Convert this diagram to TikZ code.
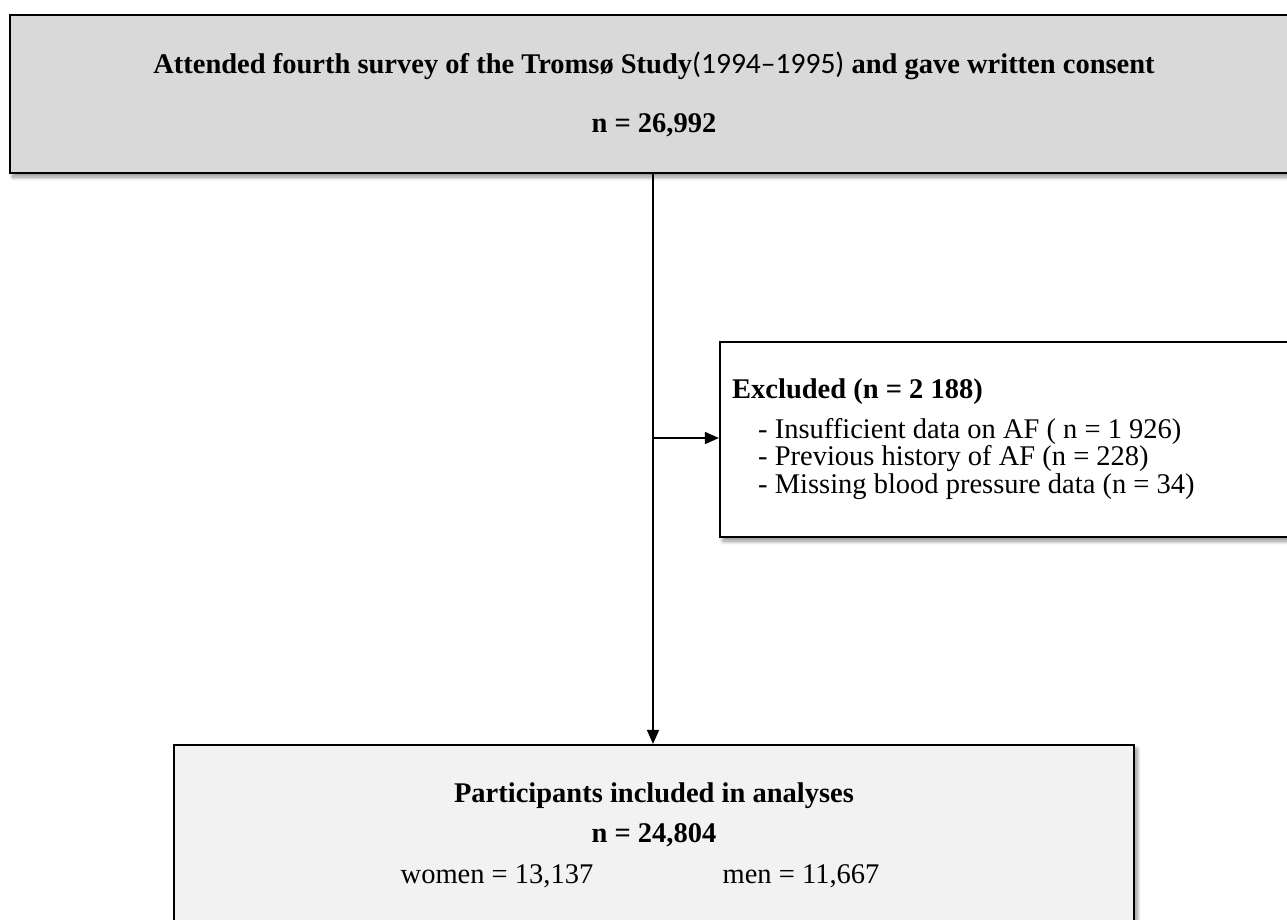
\documentclass[tikz,border=0pt]{standalone}
\usepackage{fontspec}
\setmainfont{Liberation Serif}
\newfontfamily\yearfont{Carlito}
\usetikzlibrary{shadows.blur,arrows.meta}
\definecolor{topgray}{HTML}{D9D9D9}
\definecolor{botgray}{HTML}{F2F2F2}
\tikzset{
  boxshape/.style={draw=black, line width=2.2pt, inner sep=0pt,
    blur shadow={shadow xshift=3pt, shadow yshift=-4pt, shadow blur radius=4pt, shadow blur steps=8, shadow opacity=45}},
  txt/.style={inner sep=0pt, anchor=base, font=\fontsize{28.5}{28.5}\selectfont},
  btxt/.style={txt, font=\fontsize{28.5}{28.5}\selectfont\bfseries},
  conn/.style={line width=1.6pt, -{Triangle[length=14pt,width=12pt]}}
}
\begin{document}
\begin{tikzpicture}[x=1pt,y=-1pt]
\useasboundingbox (0,0) rectangle (1287,919);
\clip (0,0) rectangle (1287,919);
% boxes
\node[boxshape, fill=topgray, minimum width=1300pt, minimum height=158pt] (top) at (660,94) {};
\node[boxshape, fill=white, minimum width=600pt, minimum height=195pt] (excl) at (1020,439.5) {};
\node[boxshape, fill=botgray, minimum width=960pt, minimum height=220pt] (bot) at (654,855) {};
% texts
\node[btxt] (t1) at (654,73) {Attended fourth survey of the Troms\o{} Study{\mdseries\yearfont\fontsize{29.5}{29.5}\selectfont(1994\textendash1995)} and gave written consent};
\node[btxt] (t2) at (654,132) {n = 26,992};
\node[btxt, anchor=base west] (e1) at (732,398) {Excluded (n = 2 188)};
\node[txt, anchor=base west] (e2) at (758,438) {- Insufficient data on AF ( n = 1 926)};
\node[txt, anchor=base west] (e3) at (758,465.5) {- Previous history of AF (n = 228)};
\node[txt, anchor=base west] (e4) at (758,493) {- Missing blood pressure data (n = 34)};
\node[btxt] (b1) at (654,802) {Participants included in analyses};
\node[btxt] (b2) at (654,842) {n = 24,804};
\node[txt] (b3) at (497,883) {women = 13,137};
\node[txt] (b4) at (801,883) {men = 11,667};
% connectors
\coordinate (mid) at (653,438);
\draw[conn] (653,0 |- top.south) -- (653,0 |- bot.north);
\draw[conn] (mid) -- (mid -| excl.west);
\end{tikzpicture}
\end{document}
